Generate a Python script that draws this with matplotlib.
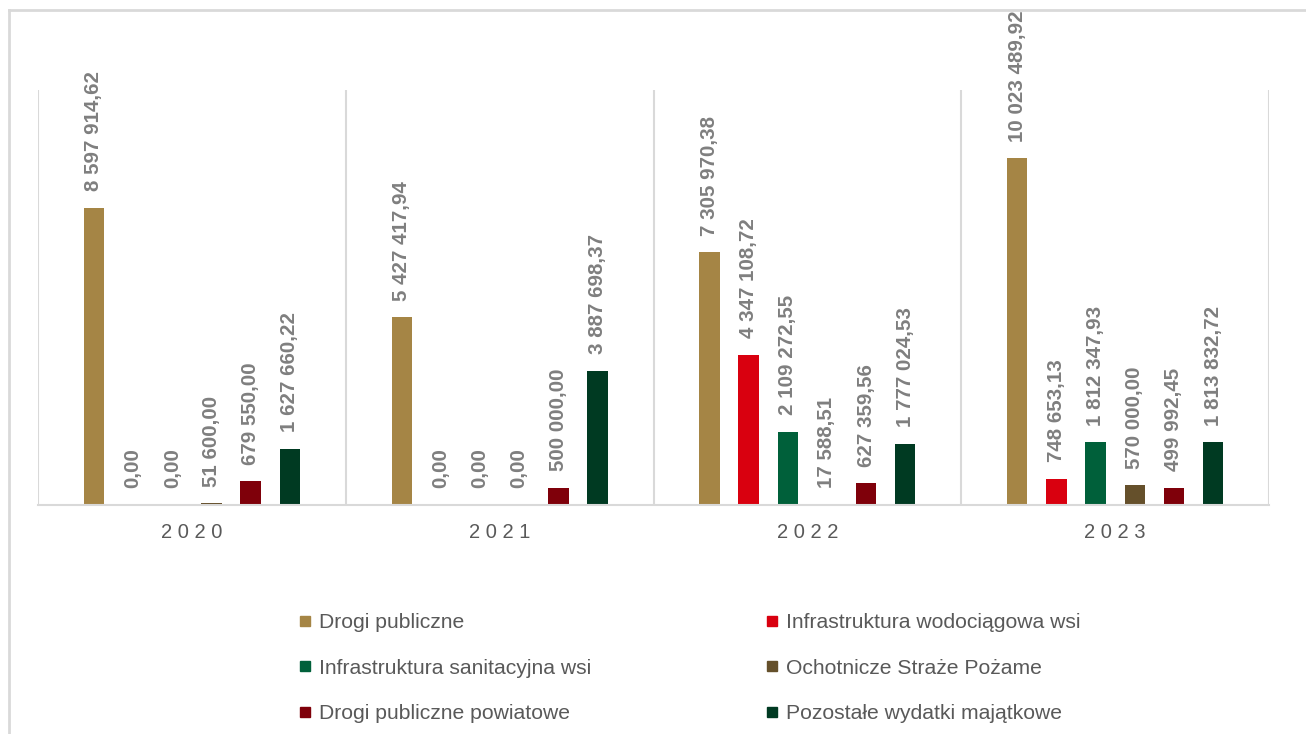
import numpy as np
import matplotlib.pyplot as plt
from matplotlib.lines import Line2D

plt.rcParams['font.family'] = ['Liberation Sans', 'DejaVu Sans']

years = ['2020', '2021', '2022', '2023']
series = [
    'Drogi publiczne',
    'Infrastruktura wodociągowa wsi',
    'Infrastruktura sanitacyjna wsi',
    'Ochotnicze Straże Pożame',
    'Drogi publiczne powiatowe',
    'Pozostałe wydatki majątkowe',
]
drogi = [8597914.62, 5427417.94, 7305970.38, 10023489.92]
wodociagi = [0.00, 0.00, 4347108.72, 748653.13]
kanalizacja = [0.00, 0.00, 2109272.55, 1812347.93]
osp = [51600.00, 0.00, 17588.51, 570000.00]
powiatowe = [679550.00, 500000.00, 627359.56, 499992.45]
pozostale = [1627660.22, 3887698.37, 1777024.53, 1813832.72]
values = [drogi, wodociagi, kanalizacja, osp, powiatowe, pozostale]
colors = ['#A58545', '#D9000F', '#00603A', '#65502B', '#7F000A', '#003A22']


def fmt_pl(v):
    return f'{v:,.2f}'.replace(',', ' ').replace('.', ',')


fig = plt.figure(figsize=(13.06, 7.34), dpi=100)
ax = fig.add_axes([38 / 1306, 1 - 505 / 734, (1269 - 38) / 1306, (505 - 90) / 734])

x = np.arange(len(years))
step = 0.1273
width = 0.066
for i, (vals, col) in enumerate(zip(values, colors)):
    pos = x + (i - 2.5) * step
    bars = ax.bar(pos, vals, width=width, color=col, zorder=2)
    for b, v in zip(bars, vals):
        ax.annotate(fmt_pl(v), (b.get_x() + b.get_width() / 2, b.get_height()),
                    xytext=(0, 12), textcoords='offset points',
                    rotation=90, ha='center', va='bottom',
                    fontsize=14.8, fontweight='bold', color='#7F7F7F')

ax.set_xlim(-0.5, 3.5)
ax.set_ylim(0, 12000000)
for sep in np.arange(-0.5, 4, 1):
    ax.axvline(sep, color='#D9D9D9', lw=1.5, zorder=1)

for s in ['top', 'left', 'right']:
    ax.spines[s].set_visible(False)
ax.spines['bottom'].set_color('#D9D9D9')
ax.spines['bottom'].set_linewidth(1.5)
ax.set_yticks([])
ax.set_xticks(x)
ax.set_xticklabels([' '.join(list(y)) for y in years], fontsize=14.5, color='#595959')
ax.tick_params(axis='x', length=0, pad=13)

# legend filled row by row, two columns
order = [0, 2, 4, 1, 3, 5]
handles = [Line2D([], [], marker='s', linestyle='none', markersize=7.5,
                  markerfacecolor=colors[k], markeredgecolor=colors[k]) for k in order]
labels = [series[k] for k in order]
fig.legend(handles, labels, ncol=2, loc='upper left',
           bbox_to_anchor=(298 / 1306, 1 - 613 / 734), frameon=False,
           fontsize=15.2, labelcolor='#595959', handlelength=0.7, handletextpad=0.3,
           labelspacing=1.26, columnspacing=8.2, borderpad=0, borderaxespad=0)

# thin frame on the left and top edges
fig.add_artist(Line2D([9 / 1306, 9 / 1306], [0, 1 - 10 / 734], color='#D9D9D9', lw=2,
                      transform=fig.transFigure))
fig.add_artist(Line2D([9 / 1306, 1], [1 - 10 / 734, 1 - 10 / 734], color='#D9D9D9', lw=2,
                      transform=fig.transFigure))

fig.savefig('out.png', dpi=100)
